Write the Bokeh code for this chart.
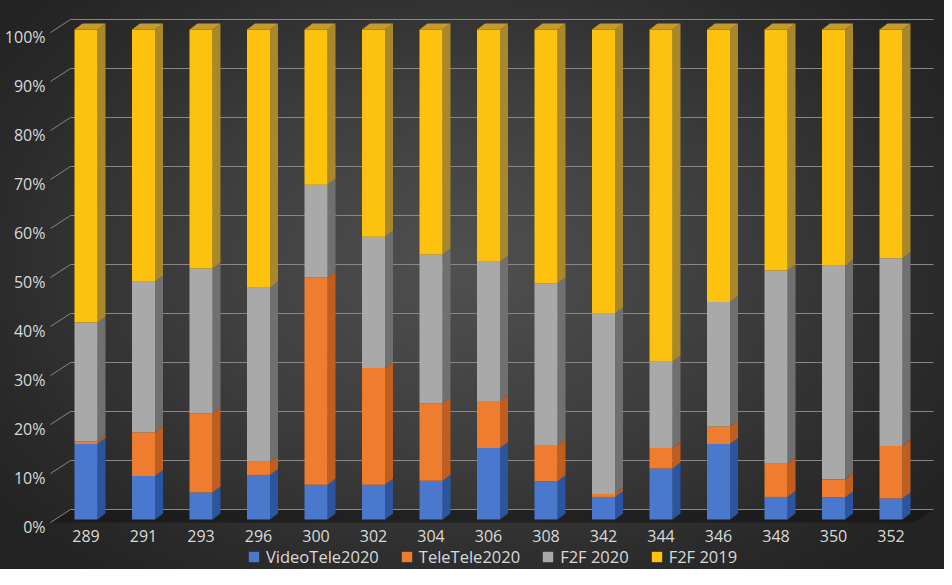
from bokeh.plotting import figure
from bokeh.models import Range1d, LinearAxis, FixedTicker, Legend, LegendItem, ColumnDataSource
from bokeh.core.properties import value
from bokeh.embed import file_html
from bokeh.resources import INLINE

# ---------------- data ----------------
categories = ["289", "291", "293", "296", "300", "302", "304", "306", "308",
              "342", "344", "346", "348", "350", "352"]
video_tele_2020 = [15.4, 8.9, 5.5, 9.1, 7.1, 7.1, 7.9, 14.6, 7.8, 4.6, 10.4, 15.4, 4.6, 4.5, 4.3]
tele_tele_2020 = [0.5, 8.9, 16.2, 2.7, 42.3, 23.8, 15.8, 9.6, 7.4, 0.6, 4.2, 3.6, 6.8, 3.7, 10.7]
f2f_2020 = [24.3, 30.7, 29.5, 35.5, 18.9, 26.8, 30.4, 28.4, 33.0, 36.9, 17.6, 25.4, 39.4, 43.6, 38.3]
f2f_2019 = [59.8, 51.5, 48.8, 52.7, 31.7, 42.3, 45.9, 47.4, 51.8, 57.9, 67.8, 55.6, 49.2, 48.2, 46.7]
series_names = ["VideoTele2020", "TeleTele2020", "F2F 2020", "F2F 2019"]
y_ticks = [0, 10, 20, 30, 40, 50, 60, 70, 80, 90, 100]
y_tick_labels = ["0%", "10%", "20%", "30%", "40%", "50%", "60%", "70%", "80%", "90%", "100%"]

# ---------------- styles ----------------
front_colors = ["#4a78cc", "#ef7d30", "#a9a9a9", "#fcc20e"]
side_colors = ["#2b559e", "#bf5e1e", "#707070", "#a8882b"]
top_color = "#c49b2c"
text_color = "#d9d9d9"
grid_color = "#8c8585"
FONT = "Open Sans"

W, H = 944, 569
LB = 47
# page-pixel geometry of the front plane
X0, XSTEP = 93.5, 57.5
Y0, YSTEP = 527.0, 4.9
fl, fr = 8 + LB, 8 + W
ft, fb = 8, 8 + H
x_start, x_end = (fl - X0) / XSTEP, (fr - X0) / XSTEP
y_start, y_end = (Y0 - fb) / YSTEP, (Y0 - ft) / YSTEP

half = 11.5 / XSTEP          # half bar width
dx = 8.0 / XSTEP             # depth offsets
dy = 6.0 / YSTEP
wall_dy = 10.0 / YSTEP       # back wall shift
wall_x0 = (78 - X0) / XSTEP
wall_x1 = (941 - X0) / XSTEP
side_x = (58 - X0) / XSTEP
side_dy = -3.0 / YSTEP
floor_x1 = (921 - X0) / XSTEP
label_shift = 7.0 / YSTEP
xlabel_y = (Y0 - 543) / YSTEP

p = figure(width=W, height=H, output_backend="svg", toolbar_location=None,
           x_range=Range1d(x_start, x_end), y_range=Range1d(y_start, y_end),
           x_axis_location=None, y_axis_location=None,
           min_border_left=LB, min_border_right=0, min_border_top=0, min_border_bottom=0)
p.extra_y_ranges = {"lab": Range1d(y_start + label_shift, y_end + label_shift)}
p.xgrid.visible = False
p.ygrid.visible = False
p.outline_line_color = None
p.background_fill_alpha = 0
p.border_fill_alpha = 0
p.styles = {"background": "radial-gradient(ellipse 62% 70% at 49% 47%, #505050 0%, #3e3e3e 45%, #2b2b2b 80%, #232323 100%)"}

# floor
p.patch([side_x, wall_x0, wall_x1, floor_x1],
        [side_dy, wall_dy, wall_dy, side_dy],
        fill_color="#121212", fill_alpha=0.55, line_color=None)

# back-wall gridlines and side-wall diagonals
p.segment(x0=[wall_x0] * len(y_ticks), y0=[v + wall_dy for v in y_ticks],
          x1=[wall_x1] * len(y_ticks), y1=[v + wall_dy for v in y_ticks],
          line_color=grid_color, line_width=1)
p.segment(x0=[side_x] * len(y_ticks), y0=[v + side_dy for v in y_ticks],
          x1=[wall_x0] * len(y_ticks), y1=[v + wall_dy for v in y_ticks],
          line_color=grid_color, line_width=1)

# stacked 100% bars
raw = [video_tele_2020, tele_tele_2020, f2f_2020, f2f_2019]
n = len(categories)
totals = [sum(s[i] for s in raw) for i in range(n)]
pct = [[s[i] / totals[i] * 100 for i in range(n)] for s in raw]
xc = list(range(n))
bottom = [0.0] * n
front_renderers = []
for k, series in enumerate(pct):
    top = [bottom[i] + series[i] for i in range(n)]
    src = ColumnDataSource(dict(
        left=[x - half for x in xc], right=[x + half for x in xc],
        bottom=list(bottom), top=top,
        sx=[[x + half, x + half + dx, x + half + dx, x + half] for x in xc],
        sy=[[bottom[i], bottom[i] + dy, top[i] + dy, top[i]] for i in range(n)],
    ))
    p.patches("sx", "sy", source=src, fill_color=side_colors[k], line_color=None)
    r = p.quad(left="left", right="right", bottom="bottom", top="top", source=src,
               fill_color=front_colors[k], line_color=None)
    front_renderers.append(r)
    bottom = top

# top faces
p.patches([[x - half, x - half + dx, x + half + dx, x + half] for x in xc],
          [[bottom[i], bottom[i] + dy, bottom[i] + dy, bottom[i]] for i in range(n)],
          fill_color=top_color, line_color=None)

# category labels (x axis)
p.text(x=xc, y=[xlabel_y] * n, text=categories, text_align="center", text_baseline="middle",
       text_color=text_color, text_font=value(FONT), text_font_size="16px")

# y axis
yax = LinearAxis(y_range_name="lab", ticker=FixedTicker(ticks=y_ticks),
                 major_label_overrides={v: l for v, l in zip(y_ticks, y_tick_labels)})
p.add_layout(yax, "left")
yax.axis_line_color = None
yax.major_tick_line_color = None
yax.minor_tick_line_color = None
yax.major_tick_out = 0
yax.major_tick_in = 0
yax.major_label_text_color = text_color
yax.major_label_text_font = FONT
yax.major_label_text_font_size = "16px"
yax.major_label_standoff = 2

legend = Legend(items=[LegendItem(label=nm, renderers=[r]) for nm, r in zip(series_names, front_renderers)],
                orientation="horizontal", location=(200, 1),
                glyph_width=13, glyph_height=13, label_standoff=6, spacing=21,
                label_text_color=text_color, label_text_font=FONT, label_text_font_size="16.5px",
                label_height=13, padding=0, margin=0,
                background_fill_alpha=0, border_line_alpha=0)
p.add_layout(legend, "center")

open("out.html", "w").write(file_html(p, INLINE))
